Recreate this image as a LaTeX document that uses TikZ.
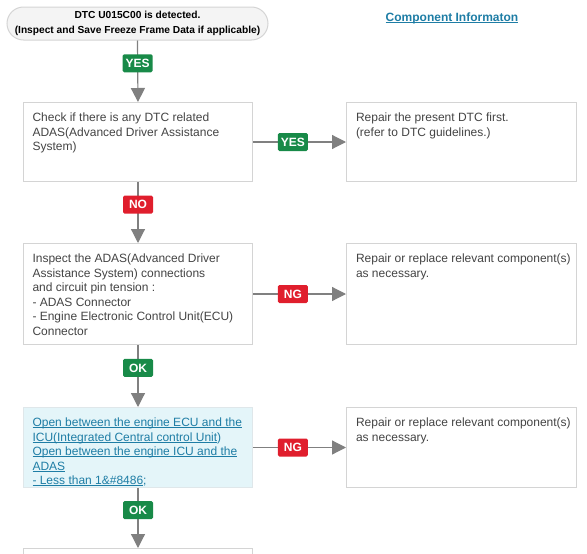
\documentclass[tikz,border=0pt]{standalone}
\usepackage{fontspec}
\setmainfont{Liberation Sans}
\usetikzlibrary{arrows.meta}

\definecolor{linegray}{RGB}{128,128,128}
\definecolor{boxgray}{RGB}{212,212,212}
\definecolor{textgray}{RGB}{68,68,68}
\definecolor{yesgreen}{RGB}{24,138,72}
\definecolor{ngred}{RGB}{224,30,45}
\definecolor{linkblue}{RGB}{30,125,165}
\definecolor{linkfill}{RGB}{228,245,249}
\definecolor{startfill}{RGB}{244,244,244}

% text of a step, set from the top of its box
\newcommand{\boxlines}[2]{\parbox[t][#1][t]{211pt}{\raggedright #2}}
% underlined link text
\newcommand{\linkul}[1]{\leavevmode\setbox0\hbox{#1}\rlap{\rule[-1.6pt]{\wd0}{0.8pt}}\box0}

\tikzset{
  stepbox/.style={draw=boxgray, line width=1pt, fill=white, anchor=north west,
    inner xsep=9pt, inner ysep=10.5pt, minimum width=229pt, text=textgray,
    font=\fontsize{12pt}{14.5pt}\selectfont},
  linkbox/.style={stepbox, fill=linkfill, draw=boxgray!80!linkblue!40, text=linkblue},
  startbox/.style={draw=boxgray, line width=1pt, fill=startfill, rounded corners=16.5pt,
    minimum width=261pt, minimum height=33pt, align=center, inner sep=2pt,
    font=\fontsize{10.2pt}{14.5pt}\selectfont\bfseries},
  badge/.style={text=white, rounded corners=1.5pt, minimum width=30pt, minimum height=18pt,
    inner sep=1pt, font=\fontsize{12pt}{14pt}\selectfont\bfseries},
  yes/.style={badge, fill=yesgreen},
  no/.style={badge, fill=ngred},
  flow/.style={draw=linegray, line width=1.2pt, -{Triangle[length=14pt,width=14pt]}}
}

\begin{document}
\begin{tikzpicture}[x=1pt, y=-1pt]
  \useasboundingbox (0,0) rectangle (587,554);
  \clip (0,0) rectangle (587,554);

  \node (start) [startbox] at (137.5,23.5) {DTC U015C00 is detected.\\(Inspect and Save Freeze Frame Data if applicable)};
  \node (info) [text=linkblue, font=\fontsize{12pt}{14pt}\selectfont\bfseries] at (452,18) {\linkul{Component Informaton}};

  \node (check) [stepbox] at (23,102) {\boxlines{58pt}{Check if there is any DTC related\\ADAS(Advanced Driver Assistance\\System)}};
  \node (fixdtc) [stepbox, minimum width=230pt] at (346,102) {\boxlines{58pt}{Repair the present DTC first.\\(refer to DTC guidelines.)}};

  \node (inspect) [stepbox] at (23,243) {\boxlines{80pt}{Inspect the ADAS(Advanced Driver\\Assistance System) connections\\and circuit pin tension :\\- ADAS Connector\\- Engine Electronic Control Unit(ECU)\\Connector}};
  \node (fixconn) [stepbox, minimum width=230pt] at (346,243) {\boxlines{80pt}{\mbox{Repair or replace relevant component(s)}\\as necessary.}};

  \node (open) [linkbox] at (23,407) {\boxlines{59pt}{\linkul{Open between the engine ECU and the}\\\linkul{ICU(Integrated Central control Unit})\\\linkul{Open between the engine ICU and the}\\\linkul{ADAS}\\\linkul{- Less than 1\&\#8486};}};
  \node (fixopen) [stepbox, minimum width=230pt] at (346,407) {\boxlines{59pt}{\mbox{Repair or replace relevant component(s)}\\as necessary.}};

  \node (next) [stepbox, minimum height=79pt] at (23,548) {};

  \draw [flow] (start.south) -- node [yes, pos=.37] {YES} (check.north);
  \draw [flow] (check.east) -- node [yes, pos=.43] {YES} (fixdtc.west);
  \draw [flow] (check.south) -- node [no, pos=.37] {NO} (inspect.north);
  \draw [flow] (inspect.east) -- node [no, pos=.43] {NG} (fixconn.west);
  \draw [flow] (inspect.south) -- node [yes, pos=.37] {OK} (open.north);
  \draw [flow] (open.east) -- node [no, pos=.43] {NG} (fixopen.west);
  \draw [flow] (open.south) -- node [yes, pos=.37] {OK} (next.north);

\end{tikzpicture}
\end{document}
